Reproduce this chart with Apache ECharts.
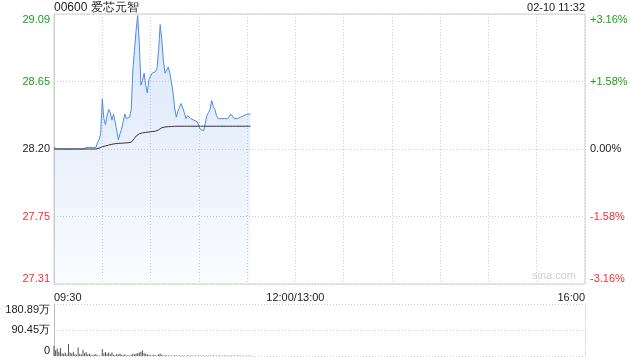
<!DOCTYPE html>
<html><head><meta charset="utf-8">
<script src="https://cdn.jsdelivr.net/npm/echarts@6/dist/echarts.min.js"></script>
<style>html,body{margin:0;padding:0;background:#fff}#c{width:640px;height:360px}</style>
</head><body><div id="c"></div>
<script>
const titleText = '00600 爱芯元智';
const dateText = '02-10 11:32';
const timeLabels = {0:'09:30',150:'12:00/13:00',330:'16:00'};
const priceTicks = [27.31, 27.75, 28.20, 28.65, 29.09];
const pctTicks = ['-3.16%', '-1.58%', '0.00%', '+1.58%', '+3.16%'];
const volTicks = ['0', '90.45万', '180.89万'];
const prevClose = 28.20;
const price = [
28.21,28.20,28.20,28.21,28.20,28.20,28.20,28.21,28.20,28.20,
28.20,28.21,28.20,28.20,28.20,28.20,28.20,28.20,28.20,28.20,
28.21,28.20,28.21,28.20,28.21,28.20,28.21,28.24,28.26,28.30,
28.53,28.40,28.36,28.42,28.46,28.44,28.39,28.43,28.38,28.32,
28.26,28.30,28.33,28.38,28.43,28.40,28.39,28.41,28.46,28.72,
28.85,28.98,29.08,28.90,28.62,28.65,28.70,28.62,28.57,28.66,
28.67,28.70,28.70,28.71,28.73,28.85,29.02,28.92,28.78,28.70,
28.69,28.74,28.70,28.64,28.57,28.47,28.41,28.45,28.46,28.50,
28.51,28.44,28.40,28.42,28.41,28.40,28.40,28.39,28.38,28.38,
28.37,28.33,28.32,28.32,28.33,28.42,28.44,28.46,28.52,28.48,
28.46,28.42,28.40,28.41,28.40,28.41,28.40,28.40,28.40,28.40,
28.43,28.44,28.40,28.41,28.40,28.40,28.41,28.41,28.42,28.43,
28.43,28.43,28.43];
const avgPrice = [
28.20,28.20,28.20,28.20,28.20,28.20,28.20,28.20,28.20,28.20,
28.20,28.20,28.20,28.20,28.20,28.20,28.20,28.20,28.20,28.20,
28.20,28.20,28.20,28.20,28.20,28.20,28.20,28.201,28.205,28.21,
28.215,28.218,28.22,28.223,28.226,28.229,28.231,28.233,28.235,28.236,
28.237,28.238,28.238,28.239,28.24,28.24,28.241,28.242,28.245,28.255,
28.27,28.285,28.295,28.30,28.303,28.306,28.308,28.31,28.311,28.312,
28.313,28.315,28.316,28.317,28.319,28.326,28.335,28.34,28.343,28.345,
28.346,28.347,28.348,28.348,28.349,28.35,28.35,28.35,28.35,28.35,
28.35,28.35,28.35,28.35,28.35,28.35,28.35,28.35,28.35,28.35,
28.35,28.35,28.35,28.35,28.35,28.35,28.35,28.35,28.35,28.35,
28.35,28.35,28.35,28.35,28.35,28.35,28.35,28.35,28.35,28.35,
28.35,28.35,28.35,28.35,28.35,28.35,28.35,28.35,28.35,28.35,
28.35,28.35,28.35];
const volume = [
35,20,26,15,28,10,8,12,5,42,
12,9,15,6,4,30,8,5,22,10,
14,6,9,4,3,5,7,3,2,1,
24,10,14,8,12,6,12,4,3,7,
5,9,4,3,6,2,3,2,4,8,
6,9,10,12,15,20,10,8,6,4,
3,2,4,3,2,6,8,4,2,3,
2,1.5,2,1,2,3,1.5,1,2,1.5,
1,2,1,1.5,1,2,1,1,1.5,1,
2,1,1,1.5,1,1,2,1,1,1.5,
1,1,1,2,1,1,1.5,1,1,1,
1.5,1,1,1,1,1.5,1,1,1,1,
1,1,1];

const FONT = '"Liberation Sans", Arial, sans-serif';
function nearestIdx(v){let b=0;for(let i=1;i<priceTicks.length;i++){if(Math.abs(priceTicks[i]-v)<Math.abs(priceTicks[b]-v))b=i;}return b;}
function tickColor(v){const i=nearestIdx(v);return i>2?'#1a9f1a':(i<2?'#f03030':'#222');}

const chart = echarts.init(document.getElementById('c'), null, {renderer:'canvas'});
chart.setOption({
  animation:false,
  textStyle:{fontFamily:FONT},
  title:[
    {text:titleText,left:54,top:2,padding:0,textStyle:{fontSize:12,fontWeight:'normal',color:'#222',fontFamily:FONT}},
    {text:dateText,right:55,top:2,padding:0,textStyle:{fontSize:11,fontWeight:'normal',color:'#222',fontFamily:FONT}}
  ],
  graphic:[{type:'text',right:64,bottom:79,style:{text:'sina.com',fill:'#d0d0d0',font:'11px '+FONT}}],
  grid:[
    {left:54,right:55,top:14,height:270,show:true,borderColor:'#cfcfcf',borderWidth:1,backgroundColor:'transparent'},
    {left:54,right:55,top:304,height:52}
  ],
  xAxis:[
    {type:'value',gridIndex:0,min:0,max:330,interval:30,
     axisLine:{show:false},axisTick:{show:false},
     splitLine:{show:true,lineStyle:{color:'#cfcfcf',type:[1,2]}},
     axisLabel:{margin:8,fontSize:11,color:'#222',fontFamily:FONT,alignMinLabel:'left',alignMaxLabel:'right',showMinLabel:true,showMaxLabel:true,
       formatter:v=>timeLabels[Math.round(v)]||''}},
    {type:'value',gridIndex:1,min:0,max:330,interval:30,
     axisLine:{show:false},axisTick:{show:false},splitLine:{show:false},axisLabel:{show:false}}
  ],
  yAxis:[
    {type:'value',gridIndex:0,min:27.31,max:29.09,interval:0.445,
     axisLine:{show:true,lineStyle:{color:'#cfcfcf'}},axisTick:{show:false},
     splitLine:{show:true,lineStyle:{color:'#cfcfcf',type:[1,2]}},
     axisLabel:{margin:4,fontSize:11,fontFamily:FONT,verticalAlignMinLabel:'bottom',verticalAlignMaxLabel:'top',
       color:v=>tickColor(v),
       formatter:v=>priceTicks[nearestIdx(v)].toFixed(2)}},
    {type:'value',gridIndex:0,position:'right',min:27.31,max:29.09,interval:0.445,
     axisLine:{show:false},axisTick:{show:false},splitLine:{show:false},
     axisLabel:{margin:5,fontSize:11,fontFamily:FONT,verticalAlignMinLabel:'bottom',verticalAlignMaxLabel:'top',
       color:v=>tickColor(v),
       formatter:v=>pctTicks[nearestIdx(v)]}},
    {type:'value',gridIndex:1,min:0,max:180.89,interval:90.445,
     axisLine:{show:true,lineStyle:{color:'#bdbdbd'}},axisTick:{show:false},
     splitLine:{show:true,lineStyle:{color:'#cfcfcf',type:[1,2]}},
     axisLabel:{margin:4,fontSize:11,color:'#222',fontFamily:FONT,verticalAlignMinLabel:'bottom',verticalAlignMaxLabel:'top',
       formatter:v=>volTicks[Math.round(v/90.445)]}},
    {type:'value',gridIndex:1,position:'right',min:0,max:180.89,interval:90.445,
     axisLine:{show:true,lineStyle:{color:'#cfcfcf',type:[1,2]}},axisTick:{show:false},splitLine:{show:false},axisLabel:{show:false}}
  ],
  series:[
    {type:'line',xAxisIndex:0,yAxisIndex:0,data:price.map((v,i)=>[i,v]),symbol:'none',
     lineStyle:{color:'#4f89e6',width:1},
     areaStyle:{origin:'start',color:new echarts.graphic.LinearGradient(0,0,0,1,[{offset:0,color:'rgba(79,137,230,0.30)'},{offset:1,color:'rgba(79,137,230,0.04)'}])}},
    {type:'line',xAxisIndex:0,yAxisIndex:0,data:avgPrice.map((v,i)=>[i,v]),symbol:'none',
     lineStyle:{color:'#333',width:1}},
    {type:'bar',xAxisIndex:1,yAxisIndex:2,data:volume.map((v,i)=>[i,v]),barWidth:1,itemStyle:{color:'#555'}}
  ]
});
</script></body></html>
